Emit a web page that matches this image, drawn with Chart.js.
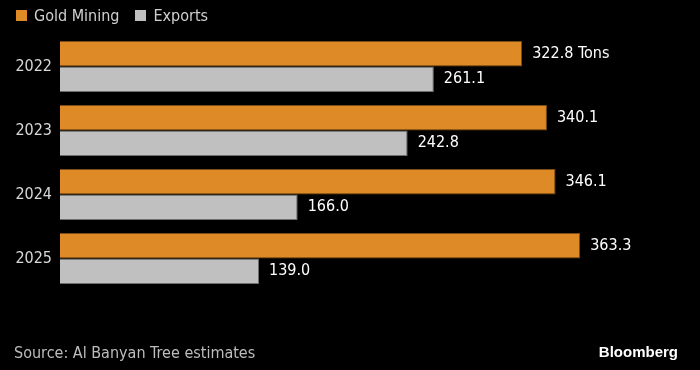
<!DOCTYPE html>
<html>
<head>
<meta charset="utf-8">
<script src="https://cdn.jsdelivr.net/npm/chart.js@4/dist/chart.umd.min.js"></script>
<style>
  html, body { margin: 0; padding: 0; background: #000; }
  #wrap { position: relative; width: 700px; height: 370px; font-family: "DejaVu Sans Condensed", "DejaVu Sans", sans-serif; }
  #legend { position: absolute; left: 16px; top: 6px; font-size: 16px; line-height: 20px; color: #d0d0d0; display: flex; gap: 16px; }
  #legend span.box { display: inline-block; width: 11px; height: 11px; margin-right: 7px; vertical-align: 0px; }
  #source { position: absolute; left: 14px; top: 343px; font-size: 16px; line-height: 20px; color: #bdbdbd; }
  #brand { position: absolute; right: 22px; top: 342px; font-size: 15px; line-height: 20px; font-weight: bold; color: #fff; font-family: "Liberation Sans", Arial, sans-serif; }
</style>
</head>
<body>
<div id="wrap">
  <canvas id="goldChart" width="700" height="370"></canvas>
  <div id="legend">
    <div><span class="box" style="background:#dd8a27"></span>Gold Mining</div>
    <div><span class="box" style="background:#c0c0c0"></span>Exports</div>
  </div>
  <div id="source">Source: Al Banyan Tree estimates</div>
  <div id="brand">Bloomberg</div>
</div>
<script>
// Data
const years = ["2022", "2023", "2024", "2025"];
const goldMining = [322.8, 340.1, 346.1, 363.3];
const exportsTons = [261.1, 242.8, 166.0, 139.0];

// Value labels at the end of each bar
const barLabels = {
    id: "barLabels",
    afterDatasetsDraw(chart) {
        const ctx = chart.ctx;
        ctx.save();
        ctx.font = '16px "DejaVu Sans Condensed", "DejaVu Sans", sans-serif';
        ctx.fillStyle = "#ffffff";
        ctx.textBaseline = "middle";
        chart.data.datasets.forEach((ds, di) => {
            chart.getDatasetMeta(di).data.forEach((bar, i) => {
                let txt = ds.data[i].toFixed(1);
                if (di === 0 && i === 0) txt += " Tons";
                ctx.fillText(txt, bar.x + 10, bar.y);
            });
        });
        ctx.restore();
    },
};

const ctx = document.getElementById("goldChart").getContext("2d");
new Chart(ctx, {
    type: "bar",
    data: {
        labels: years,
        datasets: [
            {
                label: "Gold Mining",
                data: goldMining,
                backgroundColor: "#dd8a27",
                borderColor: "#7a4c16",
                borderWidth: 1,
            },
            {
                label: "Exports",
                data: exportsTons,
                backgroundColor: "#c0c0c0",
                borderColor: "#6e6e6e",
                borderWidth: 1,
            },
        ],
    },
    options: {
        indexAxis: "y",
        responsive: false,
        animation: false,
        layout: { padding: { top: 34.5, bottom: 79.5, right: 10, left: 0 } },
        datasets: { bar: { barPercentage: 1, categoryPercentage: 0.8 } },
        scales: {
            x: { display: false, min: 0, max: 440 },
            y: {
                grid: { display: false, drawTicks: false },
                border: { display: false },
                ticks: {
                    color: "#d8d8d8",
                    padding: 8,
                    font: { family: '"DejaVu Sans Condensed", "DejaVu Sans", sans-serif', size: 16 },
                },
                afterFit(axis) { axis.width = 60; },
            },
        },
        plugins: { legend: { display: false }, tooltip: { enabled: false } },
    },
    plugins: [barLabels],
});
</script>
</body>
</html>
